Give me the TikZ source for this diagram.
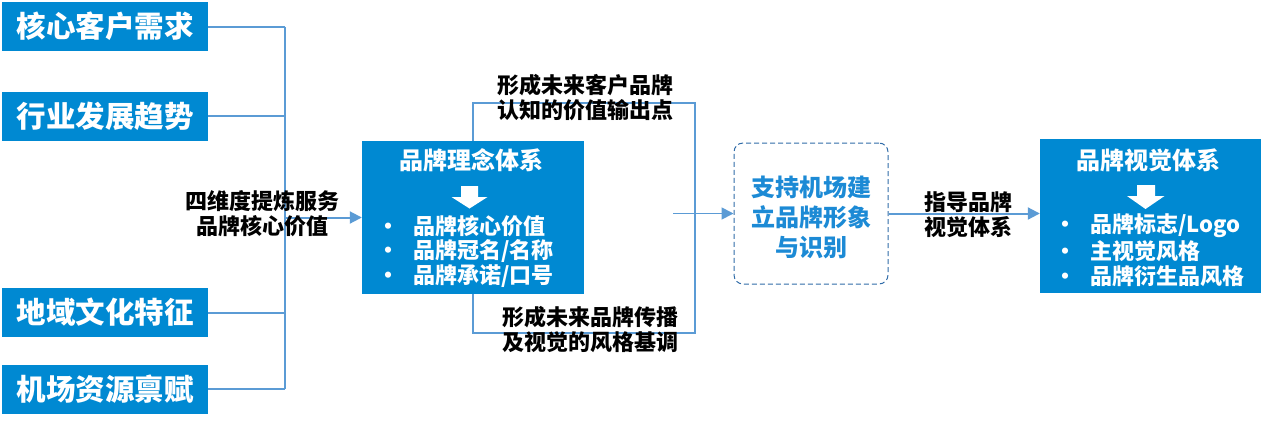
\documentclass[tikz,border=0pt]{standalone}
\usepackage{fontspec}
\setmainfont{Noto Sans CJK SC}
\usetikzlibrary{arrows.meta}
\definecolor{boxblue}{HTML}{0089D2}
\definecolor{connblue}{HTML}{5B9BD5}
\definecolor{dashblue}{HTML}{2F6BA8}
\definecolor{txtblue}{HTML}{1C8AD5}
\tikzset{
  srcbox/.style={fill=boxblue, text=white, minimum width=206pt, minimum height=49pt, inner sep=0pt, font=\bfseries\fontsize{29.5}{31}\selectfont},
  bigbox/.style={fill=boxblue, inner sep=0pt},
  boxtitle/.style={text=white, inner sep=0pt, font=\bfseries\fontsize{24}{26}\selectfont},
  item/.style={text=white, inner sep=0pt, anchor=west, font=\bfseries\fontsize{22}{25}\selectfont},
  lbl/.style={text=black, inner sep=0pt, align=center, font=\bfseries\fontsize{22}{25}\selectfont},
  conn/.style={draw=connblue, line width=2pt},
  arr/.style={conn, -{Triangle[length=12pt,width=12pt]}},
}
\begin{document}
\begin{tikzpicture}[x=1pt,y=-1pt]
\useasboundingbox (0,0) rectangle (1265,424);
% source boxes
\node[srcbox] (l1) at (105,26.5) {核心客户需求};
\node[srcbox] (l2) at (105,116) {行业发展趋势};
\node[srcbox] (l3) at (105,312.5) {地域文化特征};
\node[srcbox] (l4) at (105,389) {机场资源禀赋};
% junction coordinates
\coordinate (j1) at (285,26.5);
\coordinate (j2) at (285,116);
\coordinate (j3) at (285,312.5);
\coordinate (j4) at (285,389);
\coordinate (jm) at (285,217.5);
% middle box
\node[bigbox, minimum width=222pt, minimum height=153pt] (mid) at (473,217.5) {};
\node[boxtitle] (midt) at (471,160) {品牌理念体系};
\fill[white] (461,186) -- (478,186) -- (478,197) -- (487.5,197) -- (469.5,208.5) -- (451.5,197) -- (461,197) -- cycle;
\node[item] (m1) at (378,226) {\makebox[20pt]{•}\hspace{15pt}品牌核心价值};
\node[item] (m2) at (378,251) {\makebox[20pt]{•}\hspace{15pt}品牌冠名/名称};
\node[item] (m3) at (378,276) {\makebox[20pt]{•}\hspace{15pt}品牌承诺/口号};
% connectors from sources
\draw[conn] (l1.east) -- (j1);
\draw[conn] (l2.east) -- (j2);
\draw[conn] (l3.east) -- (j3);
\draw[conn] (l4.east) -- (j4);
\draw[conn] (j1) -- (j4);
\draw[arr] (jm) -- (jm -| mid.west);
\node[lbl] (lab1) at (262,214) {四维度提炼服务\\品牌核心价值};
% loop
\coordinate (lt) at (473,103);
\coordinate (rt) at (695,103);
\coordinate (rb) at (695,333);
\coordinate (lb) at (473,333);
\draw[conn, line width=1.7pt] (mid.north) -- (lt) -- (rt) -- (rb) -- (lb) -- (mid.south);
\node[lbl] (lab2) at (585,97.5) {形成未来客户品牌\\认知的价值输出点};
\node[lbl] (lab3) at (590,330) {形成未来品牌传播\\及视觉的风格基调};
% dashed box
\node[draw=dashblue, dash pattern=on 5pt off 3pt, line width=1pt, rounded corners=9pt, minimum width=154pt, minimum height=141pt, inner sep=0pt] (dash) at (811,213.5) {};
\node[text=txtblue, inner sep=0pt, align=center, font=\bfseries\fontsize{24}{30}\selectfont] (dasht) at (811,217) {支持机场建\\立品牌形象\\与识别};
\coordinate (a0) at (673,213.5);
\draw[arr, line width=1.7pt] (a0) -- (dash.west);
% right box
\node[bigbox, minimum width=221pt, minimum height=154pt] (vis) at (1150.5,216) {};
\draw[arr] (dash.east) -- (dash.east -| vis.west);
\node[lbl] (lab4) at (968,215) {指导品牌\\视觉体系};
\node[boxtitle] (vist) at (1148,160) {品牌视觉体系};
\fill[white] (1137,185) -- (1155,185) -- (1155,196) -- (1164.5,196) -- (1145.5,209) -- (1127,196) -- (1137,196) -- cycle;
\node[item] (r1) at (1055,226) {\makebox[20pt]{•}\hspace{15pt}品牌标志/Logo};
\node[item] (r2) at (1055,251) {\makebox[20pt]{•}\hspace{15pt}主视觉风格};
\node[item] (r3) at (1055,276) {\makebox[20pt]{•}\hspace{15pt}品牌衍生品风格};
\end{tikzpicture}
\end{document}
